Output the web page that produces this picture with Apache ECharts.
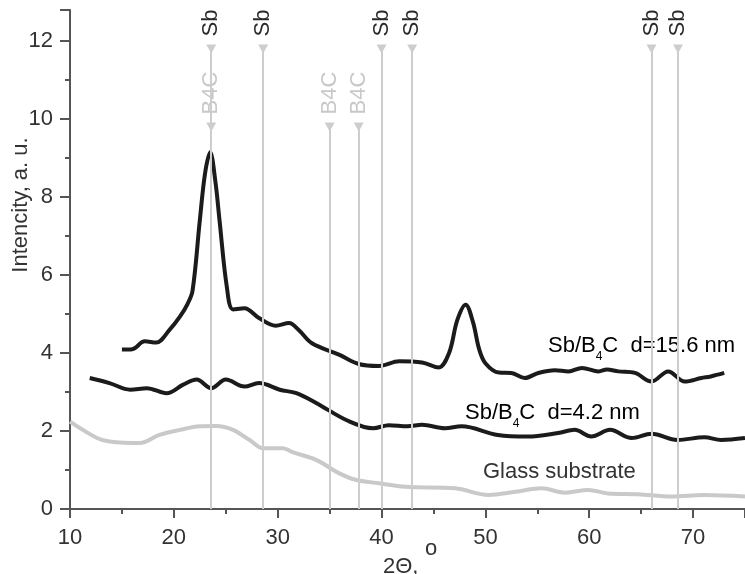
<!DOCTYPE html>
<html lang="en">
<head>
    <meta charset="UTF-8">
    <title>XRD Sb/B4C</title>
    <script type="text/javascript" src="https://cdn.jsdelivr.net/npm/echarts@6/dist/echarts.min.js"></script>
    <style>body{margin:0;background:#fff;}</style>
</head>
<body>
<div id="chart" style="width:745px;height:574px;"></div>
<script type="text/javascript">
    var myChart = echarts.init(document.getElementById('chart'));

    // peak positions, 2Theta
    var sbPeaks = [23.6, 28.6, 40.0, 42.95, 66.0, 68.55];
    var b4cPeaks = [23.6, 35.0, 37.8];
    var sbLevel = 11.8;
    var b4cLevel = 9.8;

    // Sb/B4C d=15.6 nm
    var film156 = [[15.0, 4.09], [16.0, 4.1], [17.2, 4.3], [18.3, 4.27], [19.6, 4.6], [20.6, 4.94], [21.3, 5.25],
        [21.8, 5.6], [22.5, 7.4], [23.0, 8.6], [23.5, 9.15], [24.0, 8.4], [24.4, 7.4], [25.1, 5.7], [25.7, 5.12],
        [26.8, 5.15], [28.2, 4.9], [29.8, 4.7], [31.1, 4.77], [32.0, 4.6], [33.3, 4.25], [35.9, 3.96], [37.8, 3.72],
        [39.75, 3.67], [41.7, 3.79], [43.9, 3.76], [45.5, 3.63], [46.5, 4.0], [47.3, 4.85], [48.1, 5.24], [48.8, 4.8],
        [49.4, 4.1], [50.0, 3.74], [51.3, 3.5], [52.5, 3.49], [53.8, 3.36], [55.1, 3.49], [56.7, 3.56], [58.0, 3.53],
        [59.3, 3.62], [60.9, 3.53], [61.7, 3.58], [62.8, 3.53], [64.4, 3.49], [66.0, 3.27], [67.6, 3.53], [69.2, 3.27],
        [70.8, 3.36], [71.7, 3.4], [73.0, 3.49]];
    // Sb/B4C d=4.2 nm
    var film42 = [[11.9, 3.36], [13.8, 3.23], [15.8, 3.06], [17.4, 3.1], [19.3, 2.97], [20.9, 3.19], [22.2, 3.32],
        [23.6, 3.10], [25.0, 3.32], [26.8, 3.14], [28.2, 3.23], [30.2, 3.06], [31.8, 2.97], [33.7, 2.72], [36.7, 2.27],
        [39.2, 2.07], [40.7, 2.15], [42.5, 2.12], [43.9, 2.16], [46.1, 2.07], [47.7, 2.12], [51.2, 1.9], [54.1, 1.86],
        [57.0, 1.95], [58.6, 2.03], [60.2, 1.86], [62.0, 2.03], [64.1, 1.82], [66.0, 1.93], [68.5, 1.77], [71.1, 1.84],
        [72.7, 1.77], [75.0, 1.82]];
    // glass substrate
    var glass = [[10.0, 2.24], [12.6, 1.82], [13.8, 1.73], [16.7, 1.69], [18.6, 1.9], [20.6, 2.03], [22.5, 2.12],
        [24.1, 2.13], [25.7, 2.03], [27.3, 1.77], [28.6, 1.56], [30.5, 1.56], [31.5, 1.45], [33.7, 1.26], [35.9, 0.92],
        [37.5, 0.75], [39.75, 0.66], [42.3, 0.57], [47.1, 0.53], [50.3, 0.36], [52.9, 0.44], [55.4, 0.53], [57.7, 0.42],
        [59.9, 0.49], [61.8, 0.40], [64.7, 0.38], [67.9, 0.32], [71.1, 0.36], [75.0, 0.32]];

    var fontName = 'Liberation Sans, Arial, sans-serif';
    var axisColor = '#555';
    var markColor = '#cdcdcd';

    function peakLines(list, top) {
        return list.map(function (x) {
            return [{coord: [x, 0]}, {coord: [x, top]}];
        });
    }

    function peakMarks(name, list, top, color, bg) {
        return {
            name: name,
            type: 'scatter',
            z: 1,
            silent: true,
            symbol: 'triangle',
            symbolRotate: 180,
            symbolSize: [10, 9],
            itemStyle: {color: markColor, opacity: 1},
            data: list.map(function (x) { return [x, top]; }),
            label: {
                show: true,
                formatter: name,
                position: 'top',
                distance: 6,
                rotate: 90,
                align: 'left',
                verticalAlign: 'middle',
                fontFamily: fontName,
                fontSize: 22,
                color: color,
                opacity: 1,
                backgroundColor: bg,
                padding: [0, 0, 0, 2]
            },
            markLine: {
                silent: true,
                symbol: 'none',
                label: {show: false},
                lineStyle: {color: markColor, width: 2, type: 'solid'},
                data: peakLines(list, top)
            }
        };
    }

    function curve(name, data, color) {
        return {
            name: name,
            type: 'line',
            z: 3,
            smooth: 0.35,
            showSymbol: false,
            lineStyle: {color: color, width: 4},
            data: data
        };
    }

    var textBase = {fontFamily: fontName, fontSize: 22, fill: '#333'};
    var richSub = {
        a: {fontFamily: fontName, fontSize: 22, color: '#333', lineHeight: 34, verticalAlign: 'middle'},
        s: {fontFamily: fontName, fontSize: 12, color: '#333', lineHeight: 34, verticalAlign: 'bottom'}
    };

    option = {
        backgroundColor: '#fff',
        animation: false,
        grid: {left: 70, right: 0, top: 10, bottom: 65},
        xAxis: {
            type: 'value',
            min: 10,
            max: 75,
            interval: 10,
            axisLine: {show: true, lineStyle: {color: axisColor, width: 2}},
            axisTick: {show: true, length: 9, lineStyle: {color: axisColor, width: 2}},
            minorTick: {show: true, splitNumber: 2, length: 5, lineStyle: {color: axisColor, width: 2}},
            splitLine: {show: false},
            axisLabel: {margin: 18, showMaxLabel: false, fontFamily: fontName, fontSize: 22, color: '#333'}
        },
        yAxis: {
            type: 'value',
            min: 0,
            max: 12.8,
            interval: 2,
            axisLine: {show: true, lineStyle: {color: axisColor, width: 2}},
            axisTick: {show: true, length: 10, lineStyle: {color: axisColor, width: 2}},
            minorTick: {show: true, splitNumber: 2, length: 5, lineStyle: {color: axisColor, width: 2}},
            splitLine: {show: false},
            axisLabel: {margin: 17, showMaxLabel: false, fontFamily: fontName, fontSize: 22, color: '#333'}
        },
        graphic: [
            {type: 'text', x: 21, y: 205, rotation: Math.PI / 2,
                style: Object.assign({text: 'Intencity, a. u.', align: 'center', verticalAlign: 'middle'}, textBase)},
            {type: 'text', x: 383, y: 567,
                style: Object.assign({text: '2\u0398,', align: 'left', verticalAlign: 'middle'}, textBase)},
            {type: 'text', x: 425, y: 549,
                style: Object.assign({text: 'o', align: 'left', verticalAlign: 'middle'}, textBase)},
            {type: 'text', x: 548, y: 346,
                style: {text: '{a|Sb/B}{s|4}{a|C  d=15.6 nm}', rich: richSub, align: 'left', verticalAlign: 'middle'}},
            {type: 'text', x: 465, y: 413,
                style: {text: '{a|Sb/B}{s|4}{a|C  d=4.2 nm}', rich: richSub, align: 'left', verticalAlign: 'middle'}},
            {type: 'text', x: 483, y: 472,
                style: Object.assign({text: 'Glass substrate', align: 'left', verticalAlign: 'middle'}, textBase)}
        ],
        series: [
            peakMarks('B4C', b4cPeaks, b4cLevel, '#c8c8c8', '#fff'),
            peakMarks('Sb', sbPeaks, sbLevel, '#2a2a2a', 'transparent'),
            curve('Glass substrate', glass, '#c9c9c9'),
            curve('Sb/B4C d=4.2 nm', film42, '#1b1b1b'),
            curve('Sb/B4C d=15.6 nm', film156, '#1b1b1b')
        ]
    };
    myChart.setOption(option);
</script>
</body>
</html>
